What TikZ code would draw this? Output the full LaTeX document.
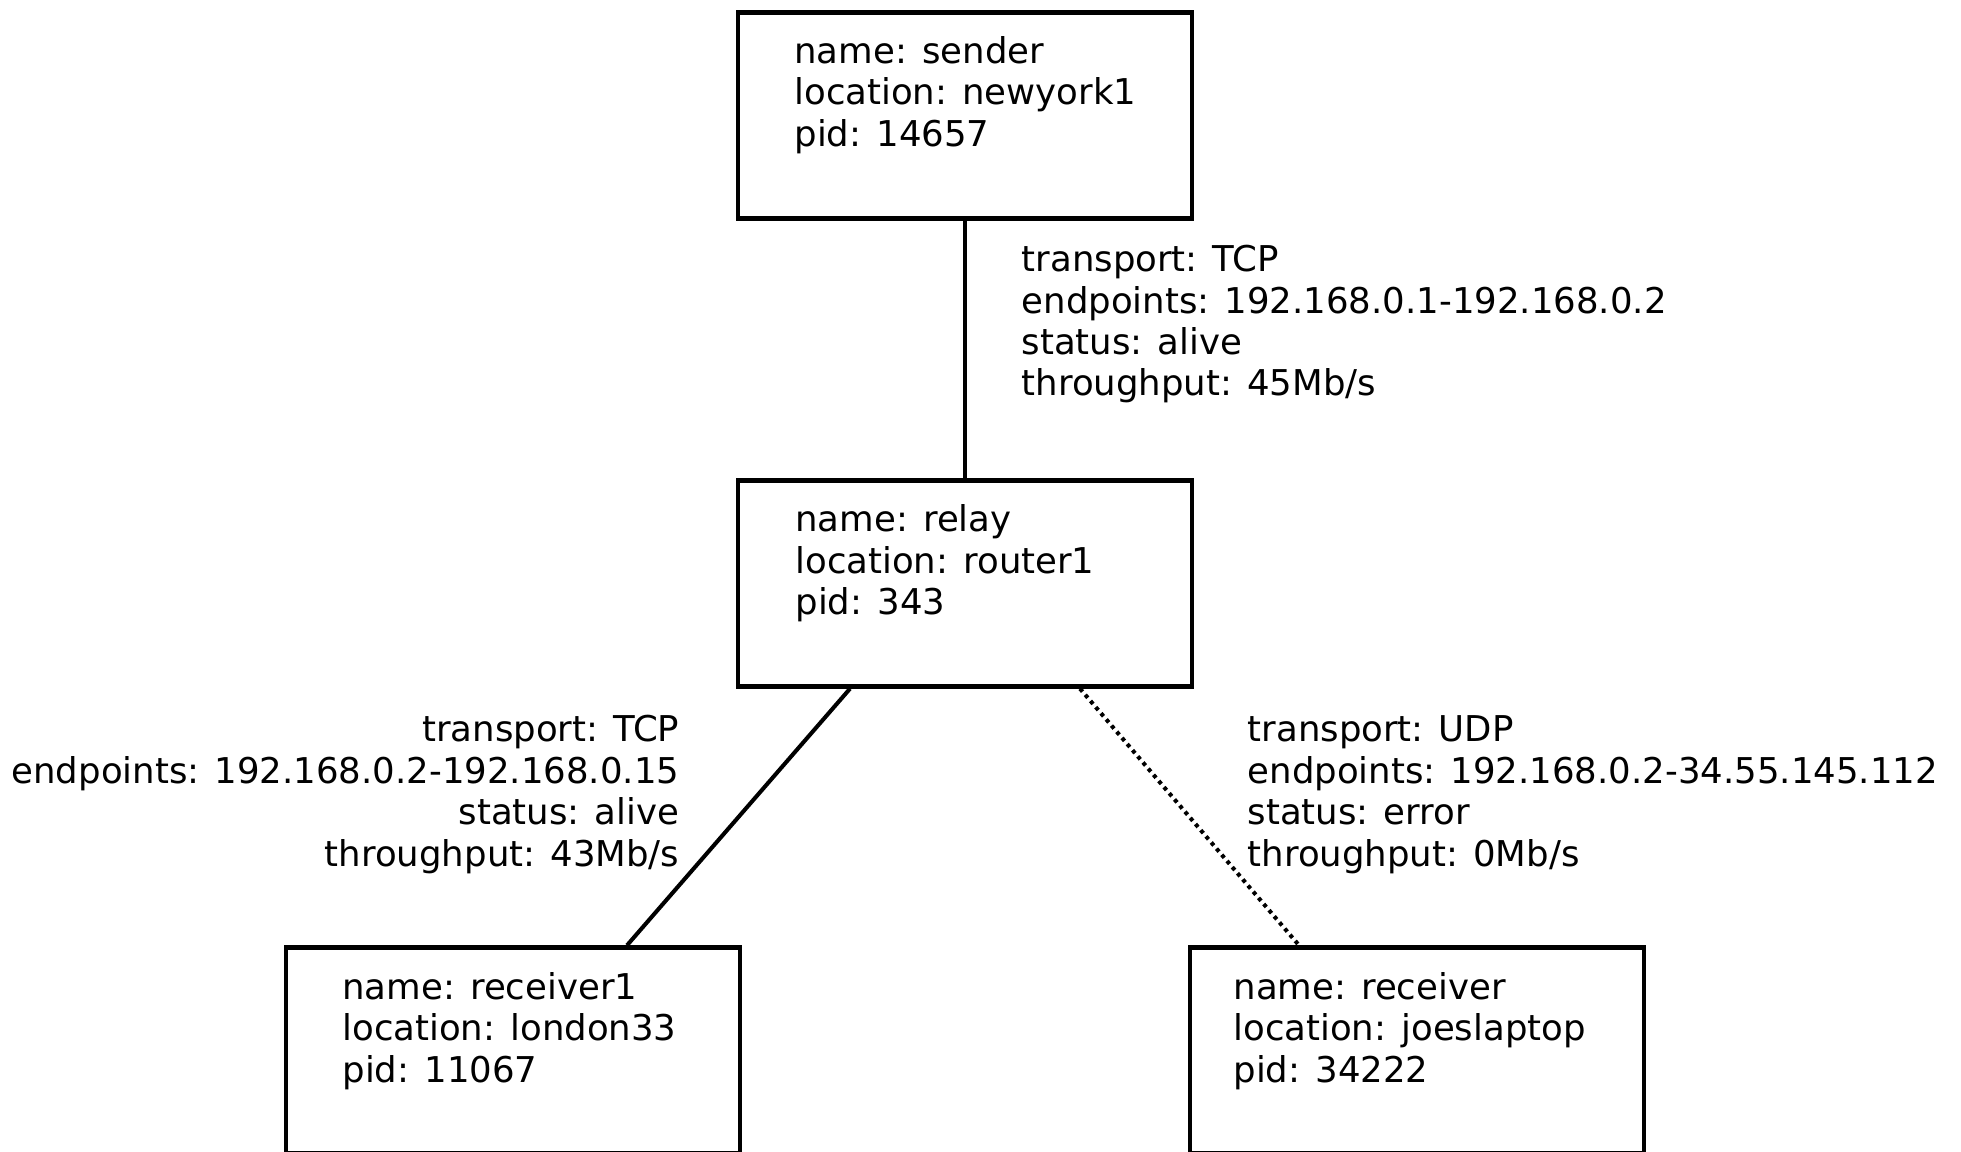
\documentclass[tikz,border=0pt]{standalone}
\usepackage{fontspec}
\setmainfont{DejaVu Sans}
\usepackage{tikz}
\usetikzlibrary{calc}
\def\hostbox{\node[draw=black, line width=1.2pt, inner sep=0, minimum width=4.54cm, minimum height=2.06cm]}
\def\hostinfo{\node[anchor=base west, align=left, inner sep=0]}
\def\drawlink{\draw[line width=1.15pt]}

\begin{document}
\begin{tikzpicture}[x=0.01cm,y=-0.01cm,font=\fontsize{10.1}{11.8}\selectfont]
\useasboundingbox (0,0) rectangle (1961,1152);
\clip (0,0) rectangle (1961,1152);
\coordinate (topc) at (965,115.5); % centre of the sender box
\coordinate (midc) at ($ (topc) + (0,468) $); % relay sits straight below
\coordinate (lowl) at ($ (midc) + (-452,467) $);
\coordinate (lowr) at ($ (midc) + (452,467) $);

% -------- hosts ---------
% the base of a text block is its last line, hence the large y offsets
\hostbox (sender) at (topc) {};
\hostinfo (sendertxt) at ($ (sender.north west) + (58,136) $) {name: sender\\location: newyork1\\pid: 14657};

\hostbox (relay) at (midc) {};
\hostinfo (relaytxt) at ($ (relay.north west) + (59,136.5) $) {name: relay\\location: router1\\pid: 343};

\hostbox (recvone) at (lowl) {};
\hostinfo (recvonetxt) at ($ (recvone.north west) + (58,137) $) {name: receiver1\\location: london33\\pid: 11067};

\hostbox (recvtwo) at (lowr) {};
\hostinfo (recvtwotxt) at ($ (recvtwo.north west) + (45,137) $) {name: receiver\\location: joeslaptop\\pid: 34222};
% ------ end hosts ------

% -------- links ---------
\drawlink (sender.south) to (relay.north);
\drawlink ($ (relay.south) + (-115,0) $) to ($ (recvone.north) + (114,0) $);
\drawlink[dash pattern=on 1.1pt off 1.2pt] ($ (relay.south) + (115,0) $) to ($ (recvtwo.north) + (-118,0) $);

% link labels, one line per property
\hostinfo (toplink) at (1021,396) {transport: TCP\\endpoints: 192.168.0.1-192.168.0.2\\status: alive\\throughput: 45Mb/s};
\node[anchor=base east, align=right, inner sep=0] (leftlink) at (680,866) {transport: TCP\\endpoints: 192.168.0.2-192.168.0.15\\status: alive\\throughput: 43Mb/s};
\hostinfo (rightlink) at (1247,866) {transport: UDP\\endpoints: 192.168.0.2-34.55.145.112\\status: error\\throughput: 0Mb/s};
% ------ end links ------
\end{tikzpicture}
\end{document}
